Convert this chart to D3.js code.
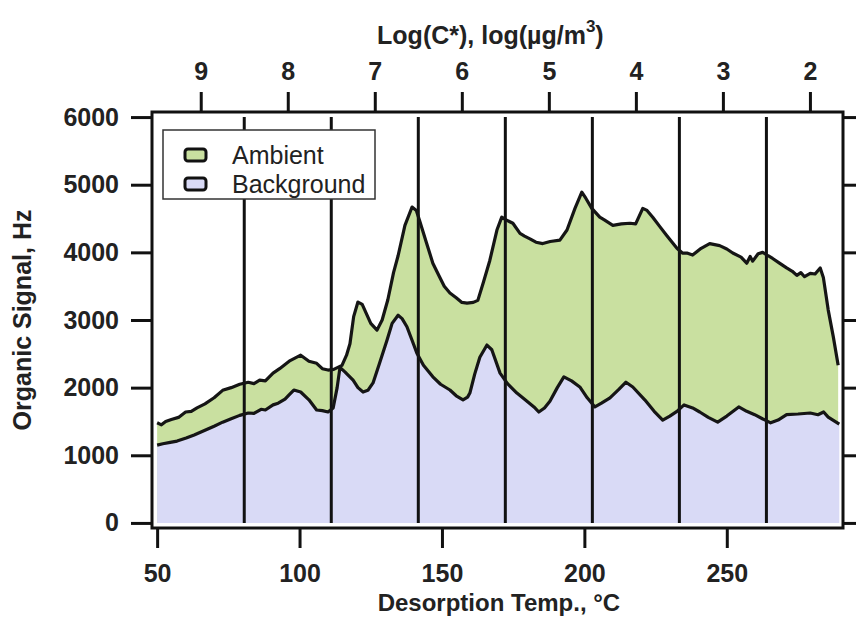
<!DOCTYPE html>
<html>
<head>
<meta charset="utf-8">
<script src="https://cdn.jsdelivr.net/npm/d3@7"></script>
<style>
	body { margin: 0; background: #fff; }
	svg { display: block; font-family: "Liberation Sans", Arial, sans-serif; }
</style>
</head>
<body>
<div id="chart"></div>
<script>
// ambient run (T in °C, signal in Hz)
const ambientTemp = [50, 51.5, 53, 55, 57.5, 60, 62, 64, 66.8, 70, 73, 76, 79, 82, 84, 86, 88, 90.7, 93, 96.7,
	100.4, 103.3, 106, 108, 110, 112, 114.9, 116.5, 117.7, 119, 120.5, 122, 125, 127.2, 129, 131, 133, 134.6, 137, 139.5,
	141, 142.3, 144.5, 146.8, 149, 150.8, 152.8, 155, 157, 158.8, 161, 162.6, 164.5, 166.8, 169.3, 171, 172.5, 174.9, 177.4, 179,
	180.9, 183, 185.4, 188, 191.4, 193.9, 196.7, 199.1, 200.5, 202.6, 205.4, 207, 210, 213, 216, 218, 220.5, 222, 224, 226.5,
	228.9, 232.5, 234.4, 236, 238, 241, 244, 247.5, 250, 252.1, 255, 257, 258.2, 259.1, 261, 262.6, 264.5, 266.1, 268.5, 271,
	273, 274.6, 276, 277.3, 279.3, 281, 282.8, 283.9, 285.6, 287.4, 289.1]
const ambientSignal = [1480, 1450, 1500, 1530, 1560, 1640, 1650, 1700, 1760, 1850, 1960, 2000, 2050, 2080, 2060, 2110, 2100, 2215, 2280, 2400,
	2480, 2390, 2360, 2280, 2260, 2270, 2330, 2480, 2650, 3050, 3265, 3230, 2950, 2850, 3000, 3300, 3700, 3950, 4400, 4670,
	4620, 4450, 4150, 3840, 3650, 3500, 3400, 3330, 3260, 3250, 3260, 3290, 3550, 3880, 4330, 4520, 4480, 4430, 4280, 4240,
	4200, 4150, 4130, 4160, 4180, 4330, 4650, 4890, 4800, 4650, 4520, 4480, 4400, 4420, 4430, 4420, 4650, 4620, 4520, 4380,
	4250, 4060, 3990, 3990, 3960, 4060, 4130, 4100, 4050, 3990, 3930, 3840, 3940, 3870, 3980, 4000, 3950, 3910, 3840, 3770,
	3720, 3660, 3700, 3640, 3690, 3680, 3770, 3630, 3150, 2750, 2330]

// background run
const backgroundTemp = [50, 52, 54.6, 57, 60.2, 63, 66.8, 70, 73, 76, 79, 82, 84, 86.5, 88, 90.7, 92.5, 94.9, 96.5, 98,
	100.4, 103.3, 106, 108, 110, 111.8, 113.2, 114.2, 116, 118.8, 120.5, 122.3, 124, 125.8, 128, 130.7, 132.5, 134.6, 136, 137.7,
	139.5, 141.2, 143.5, 146.8, 149.5, 152.8, 155, 157.4, 159, 159.8, 161.5, 163.3, 165.8, 167.5, 170.4, 173, 176.3, 179, 182.3, 184,
	186, 187.9, 190.5, 192.8, 195.5, 198.4, 201, 203.7, 206, 209, 212, 214.6, 217, 221.2, 224.5, 227.5, 230, 232.5, 235, 238,
	240.5, 243.5, 246.8, 250, 254.2, 257, 259.8, 262.5, 265.4, 268, 271, 275, 279.3, 282, 284, 285.6, 289.5]
const backgroundSignal = [1150, 1170, 1190, 1210, 1255, 1300, 1370, 1430, 1490, 1540, 1590, 1625, 1620, 1680, 1670, 1745, 1770, 1830, 1900, 1965,
	1935, 1820, 1670, 1660, 1640, 1700, 2000, 2300, 2230, 2110, 2000, 1935, 1960, 2070, 2350, 2700, 2950, 3070, 3020, 2900,
	2700, 2510, 2330, 2160, 2050, 1965, 1880, 1820, 1860, 1920, 2200, 2450, 2630, 2560, 2215, 2060, 1920, 1830, 1715, 1640,
	1700, 1800, 2000, 2160, 2100, 2010, 1850, 1715, 1770, 1850, 1970, 2080, 2010, 1820, 1650, 1520, 1580, 1650, 1745, 1700,
	1640, 1560, 1490, 1580, 1715, 1650, 1600, 1540, 1480, 1520, 1600, 1610, 1625, 1600, 1640, 1565, 1460]

const tempTicks = [50, 100, 150, 200, 250]
const signalTicks = [0, 1000, 2000, 3000, 4000, 5000, 6000]
const logCTicks = [9, 8, 7, 6, 5, 4, 3, 2]
// bin edges between volatility classes
const binEdges = [8.5, 7.5, 6.5, 5.5, 4.5, 3.5, 2.5]
const seriesNames = ['Ambient', 'Background']
const seriesFill = ['#c9e0a0', '#d9daf6']

function draw () {
	const width = 856,
		height = 619,
		margin = { top: 112, right: 13, bottom: 91, left: 152 },
		innerW = width - margin.left - margin.right,
		innerH = height - margin.top - margin.bottom,
		x = d3.scaleLinear()
			.domain([48.2, 290.8])
			.range([0, innerW]),
		xTop = d3.scaleLinear()
			.domain([9.56, 1.62])
			.range([0, innerW]),
		y = d3.scaleLinear()
			.domain([-75, 6075])
			.range([innerH, 0]),
		svg = d3.select('#chart').append('svg')
			.attr('width', width)
			.attr('height', height)
		.append('g')
			.attr('transform', 'translate(' + margin.left + ',' + margin.top + ')')

	const ambient = ambientTemp.map((t, i) => [t, ambientSignal[i]]),
		background = backgroundTemp.map((t, i) => [t, backgroundSignal[i]])

	const area = d3.area()
		.x((d) => x(d[0]))
		.y0(y(0))
		.y1((d) => y(d[1]))
	const line = d3.line()
		.x((d) => x(d[0]))
		.y((d) => y(d[1]))

	// filled areas, background drawn over ambient
	svg.append('path')
		.datum(ambient)
		.attr('fill', seriesFill[0])
		.attr('d', area)
	svg.append('path')
		.datum(background)
		.attr('fill', seriesFill[1])
		.attr('d', area)

	// volatility bin dividers
	svg.selectAll('.edge')
		.data(binEdges)
		.enter().append('line')
			.attr('class', 'edge')
			.attr('x1', (d) => xTop(d))
			.attr('x2', (d) => xTop(d))
			.attr('y1', y(0))
			.attr('y2', y(6000))
			.attr('stroke', '#111')
			.attr('stroke-width', 3)

	// outlines
	;[ambient, background].forEach((s) => {
		svg.append('path')
			.datum(s)
			.attr('fill', 'none')
			.attr('stroke', '#151515')
			.attr('stroke-width', 3.2)
			.attr('stroke-linejoin', 'round')
			.attr('d', line)
	})

	// axes
	const styleAxis = (g) => {
		g.select('.domain').remove()
		g.selectAll('.tick line').attr('stroke', '#111').attr('stroke-width', 3)
		g.selectAll('.tick text')
			.attr('fill', '#222')
			.attr('font-size', '25px')
			.attr('font-weight', 'bold')
			.attr('font-family', '"Liberation Sans", Arial, sans-serif')
	}

	svg.append('g')
		.attr('transform', 'translate(0,' + innerH + ')')
		.call(d3.axisBottom(x).tickValues(tempTicks).tickSize(20).tickPadding(16))
		.call(styleAxis)

	svg.append('g')
		.call(d3.axisTop(xTop).tickValues(logCTicks).tickSize(20).tickPadding(12))
		.call(styleAxis)

	svg.append('g')
		.call(d3.axisLeft(y).tickValues(signalTicks).tickSize(21).tickPadding(12).tickFormat(d3.format('d')))
		.call(styleAxis)

	svg.append('g')
		.attr('transform', 'translate(' + innerW + ',0)')
		.call(d3.axisRight(y).tickValues(signalTicks).tickSize(20).tickFormat(''))
		.call(styleAxis)

	// frame
	svg.append('rect')
		.attr('width', innerW)
		.attr('height', innerH)
		.attr('fill', 'none')
		.attr('stroke', '#111')
		.attr('stroke-width', 3)

	// legend
	const legend = svg.append('g')
		.attr('transform', 'translate(11,18)')
	legend.append('rect')
		.attr('width', 212)
		.attr('height', 69)
		.attr('fill', '#fff')
		.attr('stroke', '#333')
		.attr('stroke-width', 1.5)
	const items = legend.selectAll('.item')
			.data(seriesNames)
		.enter().append('g')
			.attr('class', 'item')
			.attr('transform', (d, i) => 'translate(22,' + (19 + i * 29) + ')')
	items.append('rect')
		.attr('width', 21)
		.attr('height', 12)
		.attr('rx', 3)
		.attr('fill', (d, i) => seriesFill[i])
		.attr('stroke', '#111')
		.attr('stroke-width', 3)
	items.append('text')
		.text((d) => d)
		.attr('x', 47)
		.attr('y', 15)
		.attr('font-size', '25px')
		.attr('fill', '#222')

	// titles
	svg.append('text')
		.attr('x', x(170))
		.attr('y', innerH + 83)
		.attr('text-anchor', 'middle')
		.attr('font-size', '24px')
		.attr('font-weight', 'bold')
		.attr('fill', '#222')
		.text('Desorption Temp., °C')

	svg.append('text')
		.attr('transform', 'translate(' + (-121) + ',' + (innerH / 2) + ') rotate(-90)')
		.attr('text-anchor', 'middle')
		.attr('font-size', '25px')
		.attr('font-weight', 'bold')
		.attr('fill', '#222')
		.text('Organic Signal, Hz')

	const top = svg.append('text')
		.attr('x', x(167))
		.attr('y', -68)
		.attr('text-anchor', 'middle')
		.attr('font-size', '25px')
		.attr('font-weight', 'bold')
		.attr('fill', '#222')
	top.append('tspan').text('Log(C*), log(µg/m')
	top.append('tspan').attr('font-size', '17px').attr('dy', -12).text('3')
	top.append('tspan').attr('dy', 12).text(')')
}

draw()
</script>
</body>
</html>
